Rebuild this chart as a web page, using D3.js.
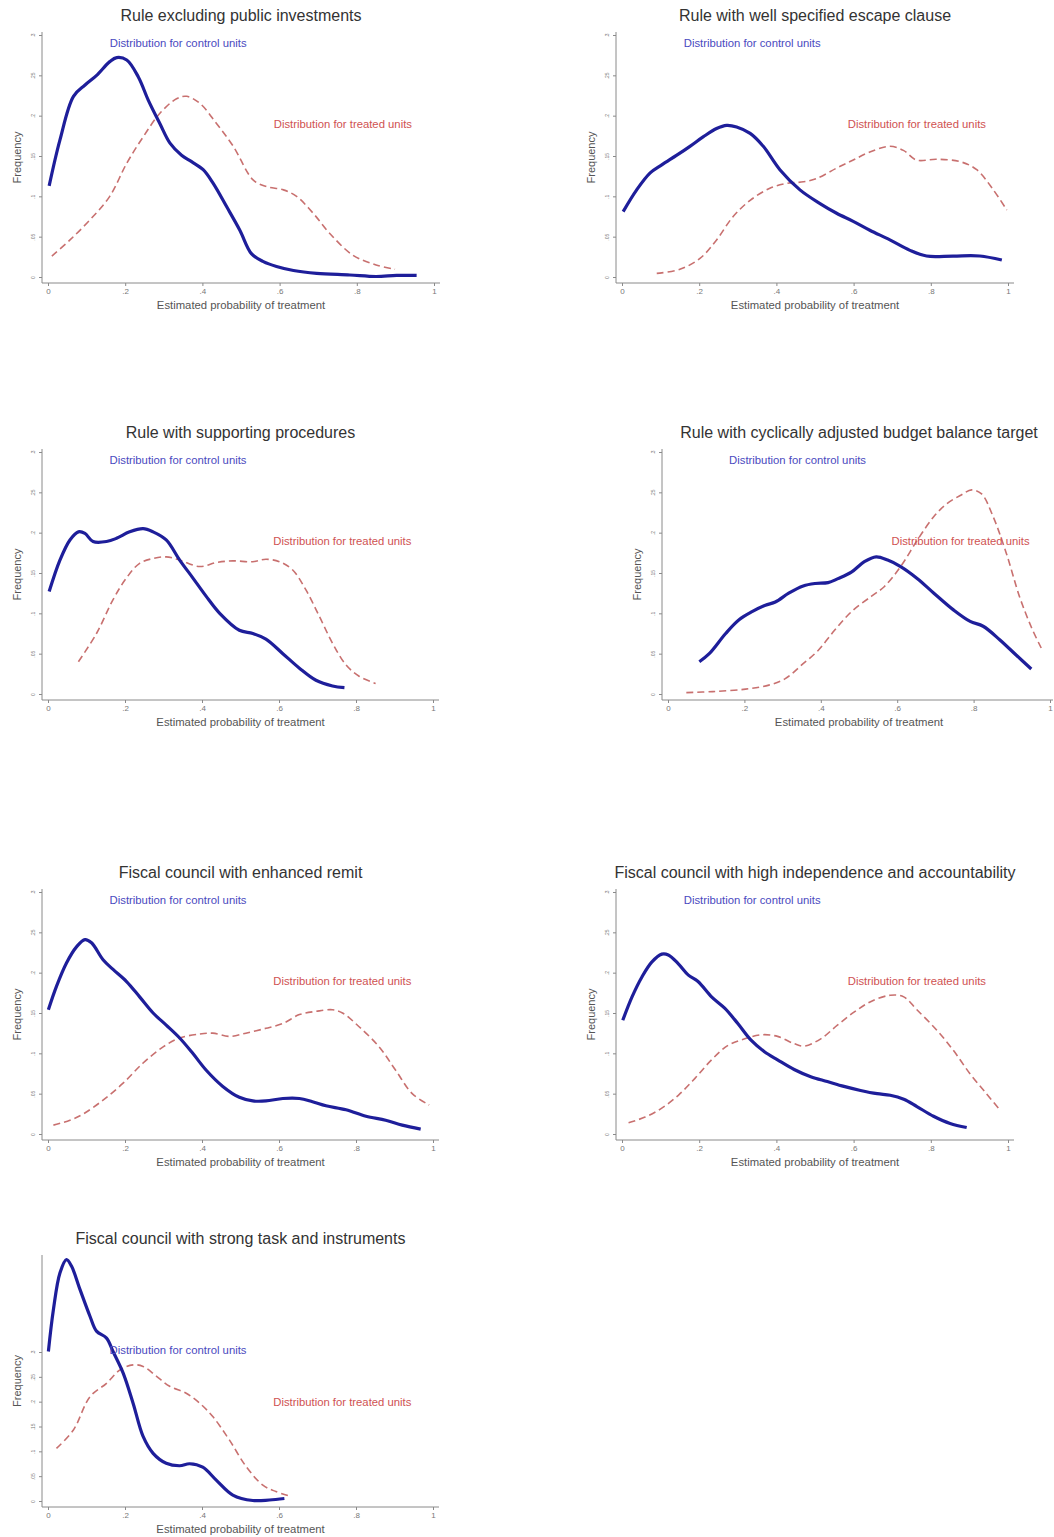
<!DOCTYPE html>
<html>
<head>
<meta charset="utf-8">
<script src="https://cdn.jsdelivr.net/npm/d3@7"></script>
<style>
  body { margin: 0; background: #fff; }
  svg { display: block; font-family: "Liberation Sans", Arial, sans-serif; }
</style>
</head>
<body>
<svg id="chart"></svg>
<script>
const width = 1054
const height = 1537

// axis ticks shared by every panel
const xTicks = [0, 0.2, 0.4, 0.6, 0.8, 1]
const xTickLabels = ['0', '.2', '.4', '.6', '.8', '1']
const yTicks = [0, 0.05, 0.1, 0.15, 0.2, 0.25, 0.3]
const yTickLabels = ['0', '.05', '.1', '.15', '.2', '.25', '.3']

const titles = [
    'Rule excluding public investments',
    'Rule with well specified escape clause',
    'Rule with supporting procedures',
    'Rule with cyclically adjusted budget balance target',
    'Fiscal council with enhanced remit',
    'Fiscal council with high independence and accountability',
    'Fiscal council with strong task and instruments'
]

// [estimated probability, frequency]
const investControl = [[0.003,0.113],[0.031,0.170],[0.066,0.224],[0.096,0.238],[0.126,0.250],[0.16,0.267],[0.178,0.272],[0.204,0.269],[0.234,0.248],[0.26,0.219],[0.29,0.190],[0.316,0.166],[0.346,0.151],[0.372,0.143],[0.402,0.133],[0.428,0.116],[0.463,0.087],[0.497,0.058],[0.527,0.029],[0.558,0.019],[0.592,0.013],[0.636,0.008],[0.696,0.0045],[0.782,0.0025],[0.85,0.0006],[0.903,0.002],[0.955,0.002]]
const investTreated = [[0.01,0.026],[0.057,0.046],[0.109,0.071],[0.16,0.10],[0.204,0.141],[0.247,0.174],[0.29,0.203],[0.333,0.221],[0.359,0.224],[0.394,0.215],[0.437,0.190],[0.48,0.162],[0.532,0.120],[0.566,0.112],[0.61,0.108],[0.644,0.10],[0.687,0.079],[0.73,0.054],[0.79,0.027],[0.85,0.015],[0.899,0.0095]]

const escapeControl = [[0.003,0.081],[0.038,0.108],[0.073,0.129],[0.103,0.139],[0.142,0.151],[0.176,0.162],[0.211,0.174],[0.245,0.184],[0.271,0.188],[0.297,0.186],[0.332,0.178],[0.366,0.162],[0.409,0.133],[0.461,0.108],[0.513,0.091],[0.556,0.079],[0.599,0.069],[0.642,0.058],[0.694,0.046],[0.746,0.033],[0.789,0.026],[0.858,0.026],[0.927,0.026],[0.984,0.021]]
const escapeTreated = [[0.09,0.0045],[0.15,0.0095],[0.202,0.023],[0.245,0.046],[0.288,0.075],[0.332,0.095],[0.383,0.110],[0.427,0.116],[0.47,0.118],[0.504,0.122],[0.556,0.135],[0.599,0.145],[0.642,0.155],[0.694,0.162],[0.729,0.157],[0.763,0.145],[0.815,0.146],[0.876,0.143],[0.919,0.133],[0.962,0.108],[0.997,0.083]]

const proceduresControl = [[0.003,0.127],[0.031,0.166],[0.057,0.191],[0.079,0.201],[0.096,0.199],[0.117,0.189],[0.152,0.189],[0.178,0.193],[0.212,0.201],[0.247,0.205],[0.273,0.201],[0.307,0.191],[0.342,0.166],[0.376,0.144],[0.411,0.121],[0.446,0.100],[0.497,0.079],[0.532,0.075],[0.566,0.068],[0.61,0.050],[0.653,0.032],[0.696,0.017],[0.739,0.010],[0.77,0.008]]
const proceduresTreated = [[0.079,0.040],[0.126,0.075],[0.169,0.117],[0.204,0.144],[0.238,0.162],[0.273,0.168],[0.307,0.170],[0.342,0.166],[0.394,0.158],[0.437,0.163],[0.48,0.165],[0.532,0.164],[0.566,0.167],[0.601,0.164],[0.635,0.154],[0.67,0.129],[0.705,0.096],[0.739,0.063],[0.774,0.036],[0.808,0.022],[0.851,0.013]]

const cyclicalControl = [[0.082,0.040],[0.108,0.050],[0.151,0.075],[0.186,0.092],[0.22,0.102],[0.255,0.110],[0.281,0.114],[0.316,0.125],[0.354,0.134],[0.385,0.137],[0.419,0.138],[0.445,0.143],[0.48,0.151],[0.514,0.164],[0.545,0.170],[0.575,0.166],[0.609,0.158],[0.653,0.143],[0.696,0.125],[0.748,0.104],[0.791,0.090],[0.825,0.084],[0.869,0.067],[0.912,0.048],[0.951,0.031]]
const cyclicalTreated = [[0.048,0.0017],[0.117,0.003],[0.203,0.006],[0.264,0.011],[0.307,0.019],[0.35,0.036],[0.393,0.054],[0.436,0.079],[0.48,0.102],[0.532,0.121],[0.566,0.133],[0.609,0.158],[0.653,0.191],[0.696,0.220],[0.73,0.236],[0.765,0.246],[0.795,0.253],[0.821,0.248],[0.851,0.220],[0.886,0.174],[0.92,0.121],[0.951,0.083],[0.977,0.057]]

const remitControl = [[0.001,0.154],[0.022,0.183],[0.048,0.212],[0.074,0.232],[0.096,0.241],[0.113,0.237],[0.143,0.216],[0.169,0.204],[0.204,0.189],[0.238,0.170],[0.273,0.150],[0.307,0.135],[0.342,0.119],[0.376,0.100],[0.411,0.079],[0.454,0.059],[0.497,0.0455],[0.532,0.041],[0.566,0.041],[0.61,0.044],[0.653,0.044],[0.687,0.040],[0.722,0.035],[0.774,0.030],[0.826,0.022],[0.877,0.017],[0.92,0.011],[0.968,0.006]]
const remitTreated = [[0.014,0.011],[0.057,0.017],[0.092,0.025],[0.143,0.042],[0.195,0.063],[0.247,0.088],[0.299,0.108],[0.342,0.119],[0.394,0.124],[0.428,0.125],[0.471,0.121],[0.514,0.125],[0.566,0.131],[0.61,0.137],[0.653,0.148],[0.696,0.152],[0.739,0.154],[0.765,0.150],[0.808,0.133],[0.86,0.108],[0.903,0.079],[0.946,0.050],[0.99,0.036]]

const independenceControl = [[0.002,0.141],[0.026,0.170],[0.052,0.195],[0.077,0.213],[0.103,0.223],[0.12,0.222],[0.146,0.211],[0.172,0.197],[0.197,0.189],[0.232,0.170],[0.266,0.156],[0.3,0.137],[0.335,0.116],[0.369,0.102],[0.403,0.092],[0.446,0.080],[0.489,0.071],[0.532,0.065],[0.575,0.059],[0.618,0.054],[0.661,0.050],[0.695,0.048],[0.73,0.043],[0.764,0.034],[0.807,0.022],[0.85,0.013],[0.893,0.008]]
const independenceTreated = [[0.017,0.014],[0.06,0.021],[0.103,0.032],[0.146,0.048],[0.189,0.069],[0.232,0.092],[0.275,0.110],[0.318,0.118],[0.361,0.123],[0.403,0.121],[0.446,0.112],[0.472,0.109],[0.515,0.118],[0.558,0.135],[0.601,0.151],[0.644,0.164],[0.695,0.172],[0.73,0.170],[0.764,0.154],[0.815,0.129],[0.858,0.104],[0.901,0.075],[0.944,0.050],[0.979,0.030]]

const strongControl = [[0.001,0.301],[0.014,0.385],[0.031,0.459],[0.048,0.486],[0.061,0.473],[0.083,0.426],[0.109,0.372],[0.126,0.342],[0.152,0.328],[0.169,0.301],[0.195,0.258],[0.221,0.197],[0.247,0.130],[0.273,0.096],[0.307,0.076],[0.342,0.071],[0.368,0.075],[0.402,0.068],[0.437,0.042],[0.48,0.012],[0.532,0.001],[0.575,0.002],[0.614,0.005]]
const strongTreated = [[0.022,0.106],[0.066,0.143],[0.109,0.210],[0.152,0.237],[0.187,0.264],[0.221,0.274],[0.247,0.271],[0.282,0.251],[0.316,0.231],[0.359,0.217],[0.394,0.197],[0.428,0.170],[0.471,0.123],[0.515,0.069],[0.558,0.032],[0.592,0.019],[0.627,0.010]]

const controlSeries = [investControl, escapeControl, proceduresControl, cyclicalControl, remitControl, independenceControl, strongControl]
const treatedSeries = [investTreated, escapeTreated, proceduresTreated, cyclicalTreated, remitTreated, independenceTreated, strongTreated]

// pixel frame of each panel: where x=0 / x=1 and y=0 / y=.3 fall, and the top of the y axis line
const frames = [
    {x0: 48, x1: 434, yZero: 277, yTop: 35, axisTop: 32, labelY: [0.29, 0.19]},
    {x0: 622, x1: 1008, yZero: 277, yTop: 35, axisTop: 32, labelY: [0.29, 0.19]},
    {x0: 48, x1: 433, yZero: 694, yTop: 452, axisTop: 449, labelY: [0.29, 0.19]},
    {x0: 668, x1: 1050, yZero: 694, yTop: 452, axisTop: 449, labelY: [0.29, 0.19]},
    {x0: 48, x1: 433, yZero: 1134, yTop: 892, axisTop: 889, labelY: [0.29, 0.19]},
    {x0: 622, x1: 1008, yZero: 1134, yTop: 892, axisTop: 889, labelY: [0.29, 0.19]},
    {x0: 48, x1: 433, yZero: 1501, yTop: 1352, axisTop: 1255, labelY: [0.305, 0.2]}
]

const svg = d3.select('#chart')
    .attr('width', width)
    .attr('height', height)

const axisColor = '#8a8a8a'

frames.forEach(function (f, i) {
    const x = d3.scaleLinear().domain([0, 1]).range([f.x0, f.x1])
    const y = d3.scaleLinear().domain([0, 0.3]).range([f.yZero, f.yTop])
    const axisX = f.x0 - 6
    const axisY = f.yZero + 6
    const g = svg.append('g')

    // x axis
    const xAxis = g.append('g')
        .attr('transform', `translate(0,${axisY})`)
        .call(d3.axisBottom(x).tickValues(xTicks).tickFormat((d, k) => xTickLabels[k]).tickSize(3).tickPadding(2))
    xAxis.select('.domain').attr('d', `M${axisX},0H${Math.min(f.x1 + 6, width - 1)}`)

    // y axis
    const yAxis = g.append('g')
        .attr('transform', `translate(${axisX},0)`)
        .call(d3.axisLeft(y).tickValues(yTicks).tickFormat((d, k) => yTickLabels[k]).tickSize(3).tickPadding(2))
    yAxis.select('.domain').attr('d', `M0,${f.axisTop}V${axisY}`)
    yAxis.selectAll('.tick text')
        .attr('transform', 'rotate(-90)')
        .attr('x', 0)
        .attr('dy', 0)
        .attr('y', -7)
        .style('text-anchor', 'middle')

    g.selectAll('.domain, .tick line').attr('stroke', axisColor).attr('stroke-width', 1)
    g.selectAll('.tick text').attr('fill', '#777').style('font-family', '"Liberation Sans", Arial, sans-serif')
    xAxis.selectAll('.tick text').style('font-size', '8px')
    yAxis.selectAll('.tick text').style('font-size', '5px')

    // axis titles
    g.append('text')
        .attr('x', (f.x0 + f.x1) / 2)
        .attr('y', axisY + 26)
        .attr('text-anchor', 'middle')
        .attr('fill', '#555')
        .style('font-size', '11.3px')
        .text('Estimated probability of treatment')

    g.append('text')
        .attr('transform', `translate(${axisX - 21},${(f.axisTop + axisY) / 2}) rotate(-90)`)
        .attr('text-anchor', 'middle')
        .attr('fill', '#555')
        .style('font-size', '11px')
        .text('Frequency')

    // panel title
    g.append('text')
        .attr('x', (f.x0 + f.x1) / 2)
        .attr('y', f.axisTop - 11)
        .attr('text-anchor', 'middle')
        .attr('fill', '#333')
        .style('font-size', '16px')
        .text(titles[i])

    const line = d3.line()
        .x(d => x(d[0]))
        .y(d => y(d[1]))
        .curve(d3.curveCatmullRom.alpha(0.5))

    g.append('path')
        .datum(treatedSeries[i])
        .attr('fill', 'none')
        .attr('stroke', '#c8706f')
        .attr('stroke-width', 1.6)
        .attr('stroke-dasharray', '7,4')
        .attr('d', line)

    g.append('path')
        .datum(controlSeries[i])
        .attr('fill', 'none')
        .attr('stroke', '#1e1e9a')
        .attr('stroke-width', 3.2)
        .attr('stroke-linejoin', 'round')
        .attr('d', line)

    // series labels
    g.append('text')
        .attr('x', x(0.16))
        .attr('y', y(f.labelY[0]) + 4)
        .attr('fill', '#4a4ac0')
        .style('font-size', '11.3px')
        .text('Distribution for control units')

    g.append('text')
        .attr('x', x(0.585))
        .attr('y', y(f.labelY[1]) + 4)
        .attr('fill', '#cf5252')
        .style('font-size', '11.3px')
        .text('Distribution for treated units')
})
</script>
</body>
</html>
